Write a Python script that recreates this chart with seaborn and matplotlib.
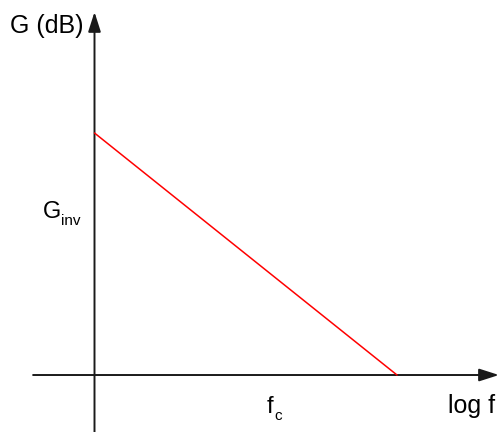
import matplotlib
matplotlib.use("Agg")
import matplotlib.pyplot as plt
import seaborn as sns
import pandas as pd

# Asymptotic gain of an integrator: straight line falling to 0 dB at f_c
log_f = [0.0, 10.0]
gain_db = [8.0, 0.0]

x_axis = [-2.03, 13.37]
y_axis = [-1.9, 12.0]

sns.set_theme(style="white")
plt.rcParams["font.family"] = ["Liberation Sans", "DejaVu Sans"]

fig = plt.figure(figsize=(4.99, 4.32), dpi=100)
ax = fig.add_axes([0, 0, 1, 1])

df = pd.DataFrame({"log f": log_f, "G": gain_db})
sns.lineplot(data=df, x="log f", y="G", ax=ax, color="#ff0000", lw=1.1, zorder=3)

ax.set_xlim(-3.124, 13.372)
ax.set_ylim(-1.884, 12.397)
ax.set_axis_off()

axis_color = "#1a1a1a"
arrow = dict(arrowstyle="-|>,head_length=1.0,head_width=0.32",
             color=axis_color, lw=1.4, shrinkA=0, shrinkB=0)
ax.annotate("", xy=(x_axis[1], 0), xytext=(x_axis[0], 0), arrowprops=arrow, zorder=2)
ax.annotate("", xy=(0, y_axis[1]), xytext=(0, y_axis[0]), arrowprops=arrow, zorder=2)

ax.text(-2.79, 11.31, "G (dB)", fontsize=18, ha="left", va="baseline", color="black")
ax.text(-1.70, 5.19, "G", fontsize=17, ha="left", va="baseline", color="black")
ax.text(-1.12, 4.96, "inv", fontsize=11, ha="left", va="baseline", color="black")
ax.text(5.70, -1.256, "f", fontsize=17, ha="left", va="baseline", color="black")
ax.text(5.96, -1.49, "c", fontsize=11, ha="left", va="baseline", color="black")
ax.text(11.69, -1.256, "log f", fontsize=18, ha="left", va="baseline", color="black")

fig.savefig("out.png", dpi=100)
